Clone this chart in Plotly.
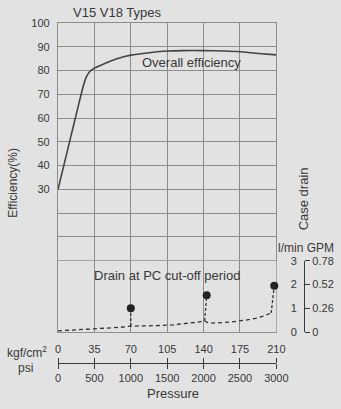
import plotly.graph_objects as go

# ---------------- data ----------------
pressure_kgf_ticks = [0, 35, 70, 105, 140, 175, 210]
pressure_psi_ticks = [0, 500, 1000, 1500, 2000, 2500, 3000]
eff_ticks = [30, 40, 50, 60, 70, 80, 90, 100]
drain_lmin_ticks = [0, 1, 2, 3]
drain_gpm_ticks = [0, 0.26, 0.52, 0.78]
drain_gpm_labels = ["0", "0.26", "0.52", "0.78"]

eff_p = [0, 5, 10, 15, 20, 24, 27, 30, 35, 45, 56, 70, 88, 105, 120, 140, 160, 175, 190, 210]
eff_val = [30, 39, 48, 57, 66, 73, 77, 79.3, 81, 83, 84.9, 86.5, 87.5, 88.2, 88.4, 88.4, 88.2, 87.9, 87.3, 86.6]

base_p = [0, 15, 30, 45, 60, 70, 80, 95, 110, 125, 135, 141, 144, 150, 165, 180, 190, 198, 205]
base_drain = [0.05, 0.08, 0.12, 0.15, 0.2, 0.25, 0.25, 0.27, 0.3, 0.36, 0.42, 0.47, 0.4, 0.38, 0.42, 0.5, 0.58, 0.68, 0.8]

cut_p = [70, 143, 208]
cut_foot_p = [70, 141, 205]
cut_foot = [0.25, 0.47, 0.8]
cut_peak = [1.0, 1.55, 1.95]

# ---------------- layout helpers ----------------
W, H = 341, 409
ML, MR, MT, MB = 58, 15, 23, 5
PW = W - ML - MR
PH = H - MT - MB


def px(x):
    return (x - ML) / PW


def py(y):
    return (H - MB - y) / PH


INK = "#383838"
GRID = "#8c8c8c"
BG = "#e2e2e2"
FONT = "Liberation Sans, Arial, sans-serif"

x_right = px(278)
main_bottom = py(337)
axis_pos = py(368)
drain_top = py(337 - 3 * 24.15)
drain_axis_x = px(306)

fig = go.Figure()

# efficiency curve
fig.add_trace(go.Scatter(x=eff_p, y=eff_val, mode="lines",
                         line=dict(color="#444", width=1.6, shape="spline", smoothing=0.5),
                         xaxis="x", yaxis="y", hoverinfo="skip"))

# drain baseline (case drain axis y3, l/min)
fig.add_trace(go.Scatter(x=base_p, y=base_drain, mode="lines",
                         line=dict(color="#333", width=1.3, dash="4px,3px"),
                         xaxis="x", yaxis="y3", hoverinfo="skip", cliponaxis=False))

# cut-off spikes
for fp, pp, f, pk in zip(cut_foot_p, cut_p, cut_foot, cut_peak):
    fig.add_trace(go.Scatter(x=[fp, pp], y=[f, pk], mode="lines",
                             line=dict(color="#333", width=1.3, dash="3px,2px"),
                             xaxis="x", yaxis="y3", hoverinfo="skip", cliponaxis=False))
fig.add_trace(go.Scatter(x=cut_p, y=cut_peak, mode="markers",
                         marker=dict(color="#222", size=8),
                         xaxis="x", yaxis="y3", hoverinfo="skip", cliponaxis=False))

# invisible traces to register auxiliary axes
fig.add_trace(go.Scatter(x=[pressure_kgf_ticks[0]], y=[eff_ticks[0]], mode="markers",
                         marker=dict(opacity=0), xaxis="x2", yaxis="y", hoverinfo="skip"))
fig.add_trace(go.Scatter(x=[pressure_psi_ticks[0]], y=[eff_ticks[0]], mode="markers",
                         marker=dict(opacity=0), xaxis="x3", yaxis="y", hoverinfo="skip"))
fig.add_trace(go.Scatter(x=[pressure_kgf_ticks[0]], y=[drain_gpm_ticks[0]], mode="markers",
                         marker=dict(opacity=0), xaxis="x", yaxis="y4", hoverinfo="skip"))

eff_grid = list(range(-30, 101, 10))

fig.update_layout(
    width=W, height=H,
    margin=dict(l=ML, r=MR, t=MT, b=MB, pad=0),
    paper_bgcolor=BG, plot_bgcolor=BG,
    showlegend=False,
    font=dict(family=FONT, color=INK, size=11),
    xaxis=dict(domain=[0, x_right], range=[0, 210], tickvals=pressure_kgf_ticks,
               showticklabels=False, ticks="", showgrid=True, gridcolor=GRID, gridwidth=1.3,
               showline=True, linecolor=GRID, linewidth=1.3, mirror=True, zeroline=False,
               anchor="y"),
    yaxis=dict(domain=[main_bottom, 1], range=[-30, 100], tickvals=eff_grid,
               ticktext=[str(v) if v in eff_ticks else " " for v in eff_grid],
               ticks="outside", ticklen=5, tickcolor="rgba(0,0,0,0)",
               showgrid=True, gridcolor=GRID, gridwidth=1.3,
               showline=True, linecolor=GRID, linewidth=1.3, mirror=True, zeroline=False,
               tickfont=dict(size=11, color=INK), anchor="x"),
    xaxis2=dict(overlaying="x", range=[0, 210], anchor="free", position=axis_pos,
                side="top", tickvals=pressure_kgf_ticks, ticks="outside", ticklen=5,
                tickcolor=INK, tickwidth=1, showline=True, linecolor=INK, linewidth=1,
                showgrid=False, zeroline=False, tickfont=dict(size=11, color=INK)),
    xaxis3=dict(overlaying="x", range=[0, 3000], anchor="free", position=axis_pos,
                side="bottom", tickvals=pressure_psi_ticks, ticks="outside", ticklen=5,
                tickcolor=INK, tickwidth=1, showline=True, linecolor=INK, linewidth=1,
                showgrid=False, zeroline=False, tickfont=dict(size=11, color=INK)),
    yaxis3=dict(domain=[main_bottom, drain_top], range=[0, 3], anchor="free",
                position=drain_axis_x, side="left", tickvals=drain_lmin_ticks,
                ticks="outside", ticklen=5, tickcolor="rgba(0,0,0,0)",
                showline=True, linecolor=INK, linewidth=1, showgrid=False, zeroline=False,
                tickfont=dict(size=11, color=INK)),
    yaxis4=dict(overlaying="y3", range=[0, 0.78], anchor="free",
                position=drain_axis_x, side="right", tickvals=drain_gpm_ticks,
                ticktext=drain_gpm_labels,
                ticks="outside", ticklen=5, tickcolor=INK, tickwidth=1,
                showline=False, showgrid=False, zeroline=False,
                tickfont=dict(size=11, color=INK)),
)

ann = [
    ("V15 V18 Types", 117, 12, 13, 0),
    ("Overall efficiency", 193, 63, 13, 0),
    ("Drain at PC cut-off period", 168, 280, 13, 0),
    ("Efficiency(%)", 13, 185, 12, -90),
    ("Case drain", 305, 202, 13, -90),
    ("l/min GPM", 308, 252, 12, 0),
    ("kgf/cm<sup>2</sup>", 27, 357, 12, 0),
    ("psi", 25, 374, 12, 0),
    ("Pressure", 174, 399, 13, 0),
]
for text, x, y, size, ang in ann:
    fig.add_annotation(text=text, x=px(x), y=py(y), xref="paper", yref="paper",
                       showarrow=False, textangle=ang, xanchor="center", yanchor="middle",
                       font=dict(size=size, color=INK, family=FONT))

fig.write_html("out.html")
